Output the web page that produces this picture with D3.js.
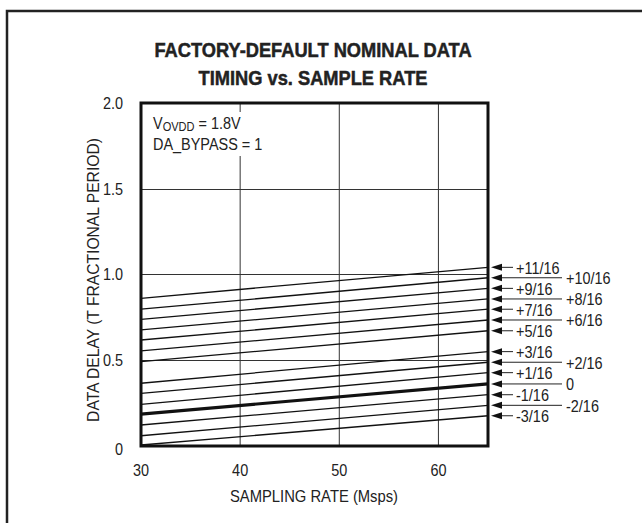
<!DOCTYPE html>
<html><head><meta charset="utf-8">
<script src="https://cdn.jsdelivr.net/npm/d3@7"></script>
<style>
html,body{margin:0;padding:0;background:#fff;}
svg{display:block;}
text{font-family:"Liberation Sans","Arial",sans-serif;fill:#222;}
</style></head>
<body>
<svg id="c" width="642" height="523"></svg>
<script>
// ---- data ----
const xTicks = [30, 40, 50, 60];
const yTicks = [0, 0.5, 1.0, 1.5, 2.0];
const yTickLabels = ["0", "0.5", "1.0", "1.5", "2.0"];
const rates = [30, 65];
const seriesNames = ["+11/16","+10/16","+9/16","+8/16","+7/16","+6/16","+5/16","+3/16","+2/16","+1/16","0","-1/16","-2/16","-3/16"];
const delayAt30 = [0.858,0.794,0.735,0.673,0.614,0.550,0.487,0.361,0.302,0.238,0.181,0.117,0.054,0.0];
const delayAt65 = [1.039,0.978,0.916,0.854,0.794,0.731,0.668,0.546,0.484,0.423,0.357,0.294,0.232,0.171];
const longLabel = [false,true,false,true,false,true,false,false,true,false,true,false,true,false];

const svg = d3.select("#c");
const L = 141, R = 488, T = 103, B = 446;
const x = d3.scaleLinear().domain([30, 65]).range([L, R]);
const y = d3.scaleLinear().domain([0, 2]).range([B - 1, T]);

const SX = 0.85;
function txt(parent, tx, ty, str, size, anchor, extra, sx) {
  return parent.append("text")
    .attr("transform", `translate(${tx},${ty})${extra || ""} scale(${sx || SX},1)`)
    .attr("text-anchor", anchor || "start")
    .style("font-size", size + "px")
    .text(str);
}

// outer border
svg.append("path").attr("d", `M7,523 V11 H642`).attr("fill","none").attr("stroke","#222").attr("stroke-width",2.5);

// title
txt(svg, 313, 56.5, "FACTORY-DEFAULT NOMINAL DATA", 21, "middle", "", 0.87)
  .style("font-weight","bold").attr("stroke","#222").attr("stroke-width",0.5);
txt(svg, 313, 84.5, "TIMING vs. SAMPLE RATE", 21, "middle", "", 0.87)
  .style("font-weight","bold").attr("stroke","#222").attr("stroke-width",0.5);

// grid
const g = svg.append("g");
g.selectAll("line.v").data(xTicks.slice(1)).join("line")
  .attr("x1", d => x(d)).attr("x2", d => x(d)).attr("y1", T).attr("y2", B)
  .attr("stroke","#333").attr("stroke-width",1);
g.selectAll("line.h").data(yTicks.slice(1, 4)).join("line")
  .attr("x1", L).attr("x2", R).attr("y1", d => Math.round(y(d)) + 0.5).attr("y2", d => Math.round(y(d)) + 0.5)
  .attr("stroke","#333").attr("stroke-width",1);

// annotation with white background
const ann = svg.append("g");
ann.append("rect").attr("x", 150).attr("y", 112).attr("width", 118).attr("height", 44).attr("fill","#fff");
const t1 = ann.append("text").attr("transform", `translate(153,129) scale(${SX},1)`).style("font-size","17px");
t1.append("tspan").text("V");
t1.append("tspan").attr("dy", 2).style("font-size","13px").text("OVDD");
t1.append("tspan").attr("dy", -2).text(" = 1.8V");
txt(ann, 153, 150, "DA_BYPASS = 1", 17);

// series lines
const line = d3.line().x(d => x(d[0])).y(d => y(d[1]));
seriesNames.forEach((name, i) => {
  const pts = rates.map((r, j) => [r, j === 0 ? delayAt30[i] : delayAt65[i]]);
  svg.append("path").datum(pts).attr("d", line).attr("fill","none")
    .attr("stroke","#111").attr("stroke-width", name === "0" ? 3.2 : 1.3);
});

// frame
svg.append("rect").attr("x", L).attr("y", T).attr("width", R - L).attr("height", B - T)
  .attr("fill","none").attr("stroke","#111").attr("stroke-width",3);

// axis tick labels
xTicks.forEach(d => txt(svg, x(d), 476, String(d), 17, "middle"));
yTicks.forEach((d, i) => txt(svg, 123, y(d) + 6 + (d === 0 ? 4 : 0), yTickLabels[i], 17, "end"));

// axis titles
txt(svg, 314, 502, "SAMPLING RATE (Msps)", 17, "middle", "", 0.87);
txt(svg, 99, 280, "DATA DELAY (T FRACTIONAL PERIOD)", 17, "middle", " rotate(-90)", 0.92);

// right-side labels with arrows
const ann2 = svg.append("g");
seriesNames.forEach((name, i) => {
  const yy = y(delayAt65[i]);
  const tip = 491;
  const end = longLabel[i] ? 562 : 513;
  ann2.append("line").attr("x1", tip + 6).attr("x2", end).attr("y1", yy).attr("y2", yy)
    .attr("stroke","#222").attr("stroke-width",1);
  ann2.append("path").attr("d", `M${tip},${yy} L${tip + 11},${yy - 3.5} L${tip + 11},${yy + 3.5} Z`).attr("fill","#111");
  txt(ann2, longLabel[i] ? 566 : 516, yy + 6.5, name, 17);
});
</script>
</body></html>
